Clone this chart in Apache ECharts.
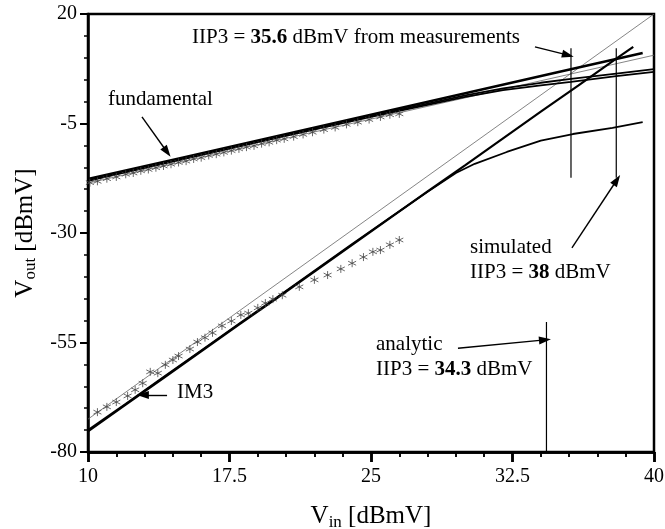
<!DOCTYPE html>
<html>
<head>
<meta charset="UTF-8">
<title>IIP3</title>
<script src="https://cdn.jsdelivr.net/npm/echarts@6/dist/echarts.min.js"></script>
<style>
  html, body { margin: 0; background: #fff; }
  #chart { width: 665px; height: 529px; }
</style>
</head>
<body>
<div id="chart"></div>
<script>
// axis ticks
const xTicks = [10, 17.5, 25, 32.5, 40];
const yTicks = [-80, -55, -30, -5, 20];

// measured fundamental (stars)
const fundMeas = [
  [10.1, -18.5], [10.5, -18.2], [11.0, -17.6], [11.5, -17.2], [12.0, -16.6], [12.4, -16.3],
  [12.8, -15.8], [13.2, -15.5], [13.6, -15.1], [14.0, -14.7], [14.4, -14.3], [14.8, -13.9],
  [15.2, -13.6], [15.6, -13.1], [16.0, -12.8], [16.4, -12.3], [16.8, -12.0], [17.2, -11.6],
  [17.6, -11.2], [18.0, -10.8], [18.4, -10.4], [18.8, -10.1], [19.2, -9.6], [19.6, -9.3],
  [20.0, -8.8], [20.4, -8.5], [20.9, -8.0], [21.4, -7.5], [21.9, -7.0], [22.5, -6.4],
  [23.1, -5.9], [23.7, -5.2], [24.3, -4.7], [24.9, -4.1], [25.5, -3.5], [26.0, -3.0], [26.5, -2.8]
];
// measured IM3 (stars)
const im3Meas = [
  [10.5, -70.9], [11.0, -69.7], [11.5, -68.6], [12.1, -67.2], [12.5, -65.8], [12.9, -64.3],
  [13.3, -61.7], [13.7, -62.0], [14.1, -60.1], [14.5, -59.0], [14.8, -58.1], [15.4, -56.5],
  [15.8, -54.9], [16.2, -53.9], [16.6, -52.8], [17.1, -51.2], [17.6, -50.1], [18.1, -48.7],
  [18.5, -48.3], [19.0, -47.1], [19.4, -46.0], [19.8, -45.1], [20.3, -44.2], [21.2, -42.3],
  [22.0, -40.7], [22.7, -39.6], [23.4, -38.2], [24.0, -36.9], [24.6, -35.5], [25.1, -34.3],
  [25.5, -33.9], [26.0, -32.7], [26.5, -31.6]
];

// fundamental curves
const fund1 = [[10, -17.7], [15, -12.8], [20, -7.9], [25, -3.0], [30, 1.9], [35, 6.8], [39.4, 11.1]];
const fund2 = [[10, -18.0], [15, -13.1], [20, -8.2], [25, -3.3], [30, 1.4], [32, 3.0], [34, 4.3], [35.6, 5.2], [38, 6.4], [40, 7.4]];
const fund3 = [[10, -18.1], [15, -13.2], [20, -8.3], [25, -3.5], [30, 1.1], [32, 2.6], [34, 3.7], [35.6, 4.5], [38, 5.8], [40, 6.8]];

// IM3 curves
const im3a = [[10, -75.3], [12, -69.2], [14, -63.1], [16, -57.0], [18, -50.9], [20, -44.9], [22, -38.8],
  [24, -32.7], [26, -26.6], [28, -20.5], [30, -14.5], [32, -8.4], [34, -2.3], [36, 3.7], [38, 9.8], [38.9, 12.5]];
const im3b = [[10, -75.0], [12, -69.0], [14, -62.9], [16, -56.8], [18, -50.7], [20, -44.7], [22, -38.6],
  [24, -32.5], [26, -26.5], [28, -20.6], [29.5, -16.3], [30.5, -14.2], [32.2, -11.5], [34, -8.9],
  [35.7, -7.4], [37.8, -6.0], [39.4, -4.7]];

// extrapolations
const fundExt = [[10, -18.6], [40, 10.6]];
const im3Ext = [[10, -72.5], [40, 20]];

// IIP3 markers
const iip3Meas = [[35.6, 12.2], [35.6, -17.4]];
const iip3Sim = [[38, 12.2], [38, -17.4]];
const iip3Ana = [[34.3, -50.3], [34.3, -80]];

// annotation arrows [from, to]
const arrows = [
  [[33.69, 12.5], [35.44, 10.6]],
  [[12.86, -3.5], [14.19, -11.5]],
  [[14.19, -67.0], [12.91, -67.0]],
  [[35.65, -33.4], [38.03, -17.9]],
  [[29.61, -56.3], [34.22, -54.4]]
];

const FONT = '"Liberation Serif", "Times New Roman", serif';
const starPath = 'path://M0,-10L0,10M-8.66,-5L8.66,5M-8.66,5L8.66,-5';

function lineSeries(data, width, color) {
  return {
    type: 'line', data: data, showSymbol: false, silent: true,
    lineStyle: { color: color || '#000', width: width }, z: 3
  };
}

const chart = echarts.init(document.getElementById('chart'));

const series = [
  lineSeries(fundExt, 0.8, '#666'),
  lineSeries(im3Ext, 0.8, '#666'),
  lineSeries(fund2, 1.8),
  lineSeries(fund3, 1.8),
  lineSeries(fund1, 2.6),
  lineSeries(im3b, 1.8),
  lineSeries(im3a, 2.2),
  lineSeries(iip3Meas, 1.2),
  lineSeries(iip3Sim, 1.2),
  lineSeries(iip3Ana, 1.2),
  {
    type: 'scatter', data: fundMeas, symbol: starPath, symbolSize: 8, silent: true,
    itemStyle: { color: 'transparent', borderColor: '#444', borderWidth: 1 }, z: 4
  },
  {
    type: 'scatter', data: im3Meas, symbol: starPath, symbolSize: 8, silent: true,
    itemStyle: { color: 'transparent', borderColor: '#444', borderWidth: 1 }, z: 4
  },
  {
    type: 'line', data: [], silent: true,
    markLine: {
      silent: true, animation: false,
      symbol: ['none', 'triangle'], symbolSize: [8, 12],
      label: { show: false },
      lineStyle: { color: '#000', width: 1.4, type: 'solid' },
      data: arrows.map(a => [{ coord: a[0] }, { coord: a[1] }])
    }
  }
];

function txt(left, top, text) {
  return {
    type: 'text', left: left, top: top, silent: true,
    style: {
      text: text, fill: '#000', fontSize: 21, fontFamily: FONT,
      rich: { b: { fontSize: 21, fontFamily: FONT, fontWeight: 'bold', fill: '#000' } }
    }
  };
}

const xMin = xTicks[0];
const xMax = xTicks[xTicks.length - 1];
const xStep = xTicks[1] - xTicks[0];
const plotBox = { left: 88, right: 11, top: 14, bottom: 77, outerBoundsMode: 'none' };

chart.setOption({
  backgroundColor: '#fff',
  animation: false,
  grid: [
    Object.assign({ show: true, borderColor: '#000', borderWidth: 2.5 }, plotBox),
    // same box again, only used to carry the x tick marks
    Object.assign({}, plotBox)
  ],
  xAxis: [
    {
      type: 'value', min: xMin, max: xMax, interval: xStep,
      splitLine: { show: false },
      axisLine: { show: true, onZero: false, lineStyle: { color: '#000', width: 2.5 } },
      axisTick: { show: true, length: 10, lineStyle: { color: '#000', width: 2.5 } },
      minorTick: { show: true, splitNumber: 5, length: 5, lineStyle: { color: '#000', width: 1.5 } },
      axisLabel: { color: '#000', fontSize: 20, fontFamily: FONT, margin: 15 },
      name: '{v|V}{s|in}{v| [dBmV]}', nameLocation: 'middle', nameGap: 50,
      nameTextStyle: {
        rich: {
          v: { fontSize: 25, fontFamily: FONT, color: '#000' },
          s: { fontSize: 17, fontFamily: FONT, color: '#000', padding: [12, 0, 0, 0] }
        }
      }
    },
    {
      gridIndex: 1, type: 'value', min: xMin, max: xMax, interval: xStep,
      splitLine: { show: false },
      axisLine: { show: true, onZero: false, lineStyle: { color: '#000', width: 2.5 } },
      axisLabel: { show: false },
      axisTick: { show: true, length: 10, lineStyle: { color: '#000', width: 2.5 } },
      minorTick: { show: true, splitNumber: 5, length: 5, lineStyle: { color: '#000', width: 1.5 } }
    }
  ],
  yAxis: [
    {
      type: 'value', min: yTicks[0], max: yTicks[yTicks.length - 1], interval: yTicks[1] - yTicks[0],
      splitLine: { show: false },
      axisLine: { show: true, onZero: false, lineStyle: { color: '#000', width: 2.5 } },
      axisTick: { show: true, length: 8, lineStyle: { color: '#000', width: 2 } },
      minorTick: { show: true, splitNumber: 5, length: 4, lineStyle: { color: '#000', width: 1.5 } },
      axisLabel: { color: '#000', fontSize: 20, fontFamily: FONT, margin: 11 },
      name: '{v|V}{s|out}{v| [dBmV]}', nameLocation: 'middle', nameGap: 46, nameRotate: 90,
      nameTextStyle: {
        rich: {
          v: { fontSize: 25, fontFamily: FONT, color: '#000' },
          s: { fontSize: 17, fontFamily: FONT, color: '#000', padding: [12, 0, 0, 0] }
        }
      }
    },
    {
      gridIndex: 1, type: 'value', min: yTicks[0], max: yTicks[yTicks.length - 1], show: false
    }
  ],
  series: series,
  graphic: [
    txt(192, 27, 'IIP3 = {b|35.6} dBmV from measurements'),
    txt(108, 89, 'fundamental'),
    txt(177, 382, 'IM3'),
    txt(470, 237, 'simulated'),
    txt(470, 262, 'IIP3 = {b|38} dBmV'),
    txt(376, 334, 'analytic'),
    txt(376, 359, 'IIP3 = {b|34.3} dBmV')
  ]
});
</script>
</body>
</html>
